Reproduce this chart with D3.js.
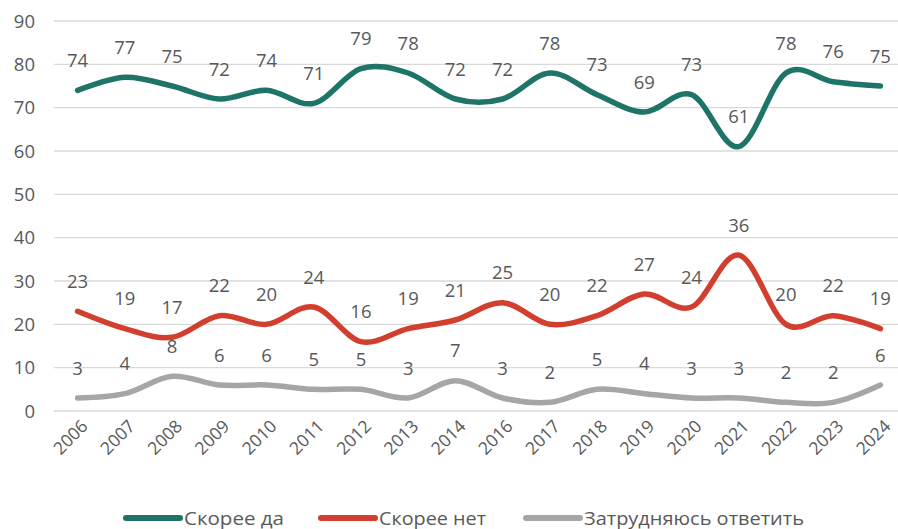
<html>
<head>
  <meta charset="UTF-8">
  <script src="https://cdn.jsdelivr.net/npm/d3@7/dist/d3.min.js"></script>
  <style>
    body { margin: 0; background: #fff; }
    text { font-family: "Open Sans", "Liberation Sans", sans-serif; fill: #595959; }
  </style>
</head>
<body>
  <svg id="chart" width="898" height="529"></svg>
  <script>
  // data
  const years = ["2006", "2007", "2008", "2009", "2010", "2011", "2012", "2013", "2014",
    "2016", "2017", "2018", "2019", "2020", "2021", "2022", "2023", "2024"];
  const yes = [74, 77, 75, 72, 74, 71, 79, 78, 72, 72, 78, 73, 69, 73, 61, 78, 76, 75];
  const no = [23, 19, 17, 22, 20, 24, 16, 19, 21, 25, 20, 22, 27, 24, 36, 20, 22, 19];
  const hard = [3, 4, 8, 6, 6, 5, 5, 3, 7, 3, 2, 5, 4, 3, 3, 2, 2, 6];
  const yTicks = [0, 10, 20, 30, 40, 50, 60, 70, 80, 90];
  const seriesNames = ["Скорее да", "Скорее нет", "Затрудняюсь ответить"];
  const colors = ["#1e7567", "#d33f2f", "#a6a6a6"];

  const svg = d3.select("#chart");
  const x = d3.scaleBand().domain(years).range([54, 904]);
  const y = d3.scaleLinear().domain([0, 90]).range([411, 21]);

  // grid
  svg.append("g").selectAll("line").data(yTicks).enter()
    .append("line")
    .attr("x1", 54).attr("x2", 898)
    .attr("y1", d => y(d)).attr("y2", d => y(d))
    .attr("stroke", "#d9d9d9").attr("stroke-width", 1.3);

  // y axis labels
  svg.append("g").selectAll("text").data(yTicks).enter()
    .append("text")
    .attr("x", 35).attr("y", d => y(d))
    .attr("dy", "0.36em")
    .attr("text-anchor", "end")
    .style("font-size", "18.5px")
    .text(d => d);

  // x axis labels
  svg.append("g").selectAll("text").data(years).enter()
    .append("text")
    .attr("transform", d => "translate(" + (x(d) + x.bandwidth() / 2 + 7) + ",423) rotate(-45)")
    .attr("text-anchor", "end")
    .attr("dy", "0.35em")
    .style("font-size", "17.5px")
    .text(d => d);

  const line = d3.line()
    .x((d, i) => x(years[i]) + x.bandwidth() / 2)
    .y(d => y(d))
    .curve(d3.curveCardinal.tension(0));

  [yes, no, hard].forEach(function (vals, k) {
    svg.append("path")
      .attr("d", line(vals))
      .attr("fill", "none")
      .attr("stroke", colors[k])
      .attr("stroke-width", 5.5)
      .attr("stroke-linecap", "round")
      .attr("stroke-linejoin", "round");
    svg.append("g").selectAll("text").data(vals).enter()
      .append("text")
      .attr("x", (d, i) => x(years[i]) + x.bandwidth() / 2)
      .attr("y", d => y(d) - 30)
      .attr("dy", "0.36em")
      .attr("text-anchor", "middle")
      .style("font-size", "18.5px")
      .text(d => d);
  });

  // legend
  const legX = [126, 321, 526];
  const legW = [100, 107, 220];
  const lg = svg.append("g");
  seriesNames.forEach(function (name, k) {
    lg.append("line")
      .attr("x1", legX[k]).attr("x2", legX[k] + 54)
      .attr("y1", 518).attr("y2", 518)
      .attr("stroke", colors[k]).attr("stroke-width", 6)
      .attr("stroke-linecap", "round");
    lg.append("text")
      .attr("x", legX[k] + 58).attr("y", 519)
      .attr("dy", "0.36em")
      .attr("textLength", legW[k])
      .attr("lengthAdjust", "spacingAndGlyphs")
      .style("font-size", "18px")
      .text(name);
  });
  </script>
</body>
</html>
